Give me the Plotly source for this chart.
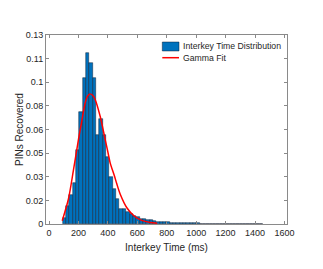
import numpy as np
import plotly.graph_objects as go

# ---- data ----
bin_min = 93.0      # first bin edge (ms)
bin_max = 1455.0    # last bin edge (ms)
n_bins = 60
probabilities = [
    0.0041, 0.0126, 0.0199, 0.0282, 0.0510, 0.0767, 0.1007, 0.1174, 0.1106, 0.1007,
    0.0613, 0.0720, 0.0613, 0.0460, 0.0323, 0.0240, 0.0170, 0.0105, 0.0105, 0.0086,
    0.0068, 0.0057, 0.0045, 0.0037, 0.0032, 0.0026, 0.0025, 0.0021, 0.0017, 0.0015,
    0.0013, 0.0011, 0.0010, 0.0009, 0.0008, 0.0007, 0.0006, 0.0005, 0.0005, 0.0004,
    0.0004, 0.0003, 0.0003, 0.0002, 0.0002, 0.0002, 0.0001, 0.0001, 0.0002, 0.0001,
    0.0001, 0.0002, 0.0001, 0.0001, 0.0001, 0.0002, 0.0001, 0.0001, 0.0000, 0.0001,
]
fit_x = [90, 132, 166, 200, 223, 245, 262, 279, 296, 314, 348, 382, 397, 416,
         443, 460, 484, 530, 579, 630, 688, 735]
fit_y = [0.0023, 0.0172, 0.0370, 0.0580, 0.0710, 0.0830, 0.0880, 0.0895, 0.0885,
         0.0855, 0.0739, 0.0579, 0.0510, 0.0419, 0.0335, 0.0278, 0.0205, 0.0110,
         0.0055, 0.0025, 0.0011, 0.0006]
x_ticks = [0, 200, 400, 600, 800, 1000, 1200, 1400, 1600]
y_tick_labels = ["0", "0.02", "0.03", "0.05", "0.06", "0.08", "0.1", "0.11", "0.13"]
y_max = 0.13
legend_labels = ["Interkey Time Distribution", "Gamma Fit"]

edges = np.linspace(bin_min, bin_max, n_bins + 1)
centers = (edges[:-1] + edges[1:]) / 2
width = edges[1] - edges[0]
y_tick_vals = [y_max * k / (len(y_tick_labels) - 1) for k in range(len(y_tick_labels))]

BAR_COLOR = "#0072BD"
FONT = "Liberation Sans, Arial, Helvetica, sans-serif"
TXT = "#262626"

fig = go.Figure()
fig.add_trace(go.Bar(
    x=centers, y=probabilities, width=width,
    marker=dict(color=BAR_COLOR, line=dict(color="rgba(10,20,40,0.75)", width=0.6)),
    showlegend=False,
))
fig.add_trace(go.Scatter(
    x=fit_x, y=fit_y, mode="lines",
    line=dict(color="#FF0000", width=1.5, shape="spline", smoothing=0.8),
    showlegend=False,
))

L, R, T, B = 46, 287, 35, 224
W, H = 323, 269

def px(xp):
    return (xp - L) / (R - L)

def py(yp):
    return (B - yp) / (B - T)

# manual MATLAB-style legend (no box)
fig.add_shape(type="rect", xref="paper", yref="paper",
              x0=px(162.3), x1=px(179), y0=py(51), y1=py(42),
              fillcolor=BAR_COLOR, line=dict(color="rgba(10,20,40,0.75)", width=0.6))
fig.add_shape(type="line", xref="paper", yref="paper",
              x0=px(162.3), x1=px(179), y0=py(57.7), y1=py(57.7),
              line=dict(color="#FF0000", width=1.5))
for label, yy in zip(legend_labels, [46.5, 57.7]):
    fig.add_annotation(xref="paper", yref="paper", x=px(180.5), y=py(yy),
                       text=label, showarrow=False, xanchor="left", yanchor="middle",
                       font=dict(family=FONT, size=8.7, color=TXT))

axis_common = dict(
    showline=True, linecolor="#8a8a8a", linewidth=1, mirror="ticks",
    ticks="inside", ticklen=3, tickcolor="#8a8a8a", tickwidth=1,
    showgrid=False, zeroline=False, automargin=False,
    tickfont=dict(family=FONT, size=9, color=TXT),
)

fig.update_layout(
    width=W, height=H,
    margin=dict(l=L, r=W - R, t=T, b=H - B),
    paper_bgcolor="white", plot_bgcolor="white",
    bargap=0,
    xaxis=dict(range=[-20.4, 1617], tickvals=x_ticks,
               title=dict(text="Interkey Time (ms)", standoff=7,
                          font=dict(family=FONT, size=10, color=TXT)),
               **axis_common),
    yaxis=dict(range=[0, y_max], tickvals=y_tick_vals, ticktext=y_tick_labels,
               title=dict(text="PINs Recovered", standoff=0,
                          font=dict(family=FONT, size=10, color=TXT)),
               **axis_common),
)

fig.write_html("out.html", config={"displayModeBar": False},
               post_script="document.body.style.margin='0';document.body.style.overflow='hidden';")
